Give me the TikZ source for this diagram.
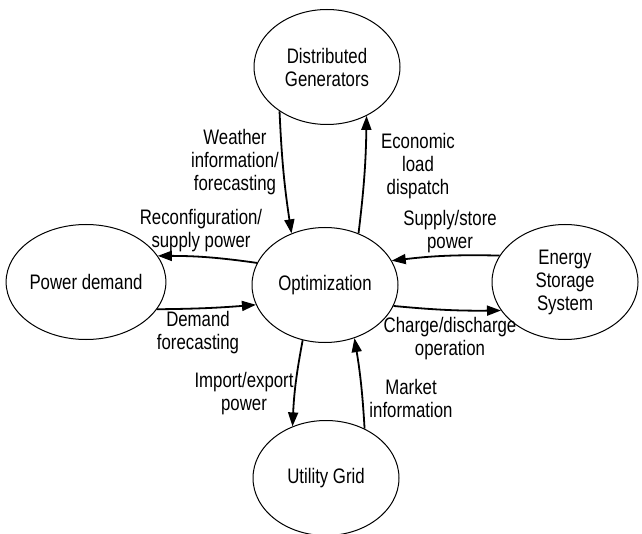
\documentclass[tikz,border=0pt]{standalone}
\usepackage{fontspec}
\setmainfont{Liberation Sans}[FakeStretch=0.8]
\usetikzlibrary{arrows.meta,shapes.geometric}

\begin{document}
\begin{tikzpicture}
[x=0.5pt,y=-0.5pt,
 block/.style={ellipse,draw=black,line width=0.5pt,inner sep=0pt,
    minimum width=73pt,minimum height=57.5pt,align=center},
 txt/.style={align=center,inner sep=0pt},
 flow/.style={-{Triangle[length=7pt,width=5pt]},line width=0.9pt},
 every node/.append style={font=\fontsize{10.5}{11.5}\selectfont}]
\useasboundingbox (0,0) rectangle (642,534);

\node[block] (opt) at (325,285) {Optimization};
\node[block] (dg) at (327,67) {Distributed\\Generators};
\node[block] (pd) at (86,282) {Power demand};
\node[block] (ess) at (565,282) {Energy\\Storage\\System};
\node[block] (ug) at (326,478) {Utility Grid};

\node[txt] (weather) at (235,162) {Weather\\information/\\forecasting};
\node[txt] (econ) at (418,166) {Economic\\load\\dispatch};
\node[txt] (reconf) at (201,231) {Reconfiguration/\\supply power};
\node[txt] (dem) at (198,333) {Demand\\forecasting};
\node[txt] (supply) at (450,232) {Supply/store\\power};
\node[txt] (charge) at (450,339) {Charge/discharge\\operation};
\node[txt] (import) at (244,394) {Import/export\\power};
\node[txt] (market) at (411,398) {Market\\information};

\draw [flow] (dg.223) to[bend right=3] (opt.123);
\draw [flow] (opt.57) to[bend right=3] (dg.309);
\draw [flow] (opt.162) to[bend right=4] (pd.20);
\draw [flow] (pd.339) to[bend right=2] (opt.196);
\draw [flow] (ess.158) to[bend right=4] (opt.20);
\draw [flow] (opt.343) to[bend right=3] (ess.204);
\draw [flow] (opt.248) to[bend right=4] (ug.123);
\draw [flow] (ug.52) to[bend right=3] (opt.299);
\end{tikzpicture}
\end{document}
